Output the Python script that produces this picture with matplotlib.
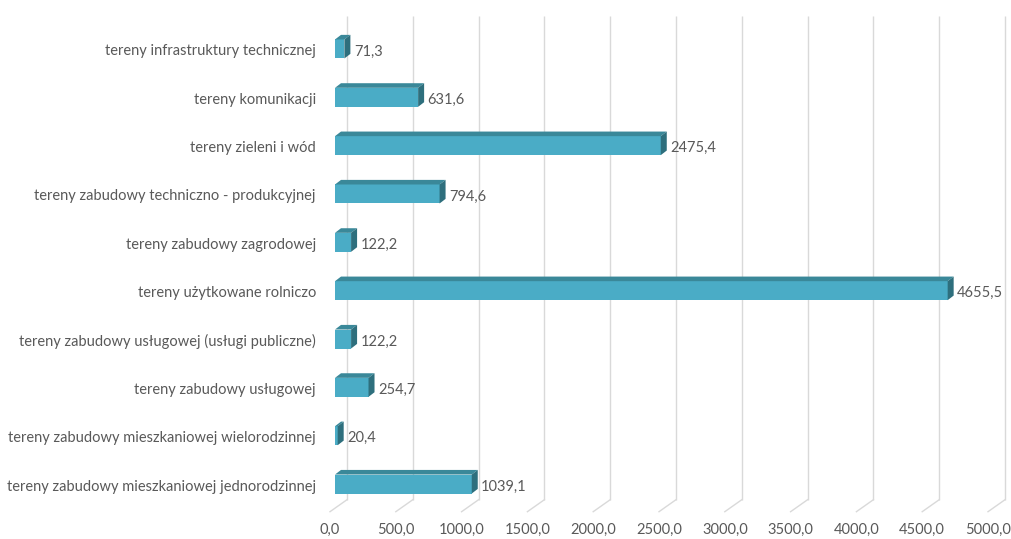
import matplotlib
matplotlib.use("Agg")
import matplotlib.pyplot as plt
from matplotlib.patches import Polygon

categories = [
    "tereny zabudowy mieszkaniowej jednorodzinnej",
    "tereny zabudowy mieszkaniowej wielorodzinnej",
    "tereny zabudowy usługowej",
    "tereny zabudowy usługowej (usługi publiczne)",
    "tereny użytkowane rolniczo",
    "tereny zabudowy zagrodowej",
    "tereny zabudowy techniczno - produkcyjnej",
    "tereny zieleni i wód",
    "tereny komunikacji",
    "tereny infrastruktury technicznej",
]
values = [1039.1, 20.4, 254.7, 122.2, 4655.5, 122.2, 794.6, 2475.4, 631.6, 71.3]
xticks = [0, 500, 1000, 1500, 2000, 2500, 3000, 3500, 4000, 4500, 5000]

FRONT = "#4aacc6"
TOP = "#3a8899"
SIDE = "#2e6f7d"
GRID = "#d9d9d9"
TXT = "#595959"
FONT = "Lato"
FS = 10.5

W, H = 1011, 539
fig = plt.figure(figsize=(W / 100, H / 100), dpi=100)
ax_left, ax_w = 335, 658
ax_bot, ax_h = 30.8, 483.4
ax = fig.add_axes([ax_left / W, ax_bot / H, ax_w / W, ax_h / H])
ax.set_xlim(0, 5000)
ax.set_ylim(-0.5, len(categories) - 0.5)
ax.axis("off")

upx = 5000 / ax_w          # data units per pixel, x
upy = len(categories) / ax_h  # data units per pixel, y

def dx(p):
    return p * upx

def dy(p):
    return p * upy

# back wall / floor offsets (pixels)
BX, BY = 12, 8.5
FX, FY = -5, -3.5
ytop = 9.69

for v in xticks:
    ax.plot([v + dx(BX), v + dx(BX)], [-0.5 + dy(BY), ytop], color=GRID, lw=1.0,
            solid_capstyle="butt", clip_on=False, zorder=1)
    ax.plot([v + dx(BX), v + dx(FX)], [-0.5 + dy(BY), -0.5 + dy(FY)], color=GRID, lw=1.0,
            clip_on=False, zorder=1)
    ax.text(v + dx(FX), -0.5 + dy(FY) - dy(18), f"{v:.1f}".replace(".", ","),
            ha="center", va="center", color=TXT, fontsize=FS, family=FONT, clip_on=False)

h = 19 / 48.34
DX, DY = 6, 4.6
ypos = list(range(len(categories)))
ax.barh(ypos, values, height=h, left=0, color=FRONT, zorder=3, linewidth=0)
for y, v, c in zip(ypos, values, categories):
    t = y + h / 2
    b = y - h / 2
    top = Polygon([(0, t), (v, t), (v + dx(DX), t + dy(DY)), (dx(DX), t + dy(DY))],
                  closed=True, facecolor=TOP, edgecolor="none", zorder=3)
    side = Polygon([(v, b), (v, t), (v + dx(DX), t + dy(DY)), (v + dx(DX), b + dy(DY))],
                   closed=True, facecolor=SIDE, edgecolor="none", zorder=3)
    ax.add_patch(top)
    ax.add_patch(side)
    ax.text(v + dx(DX) + dx(3.5), y - dy(2.5), f"{v:.1f}".replace(".", ","),
            ha="left", va="center", color=TXT, fontsize=FS, family=FONT, zorder=4)
    ax.text(-dx(19), y - dy(2.5), c, ha="right", va="center", color=TXT,
            fontsize=FS, family=FONT, clip_on=False)

fig.savefig("out.png", dpi=100)
